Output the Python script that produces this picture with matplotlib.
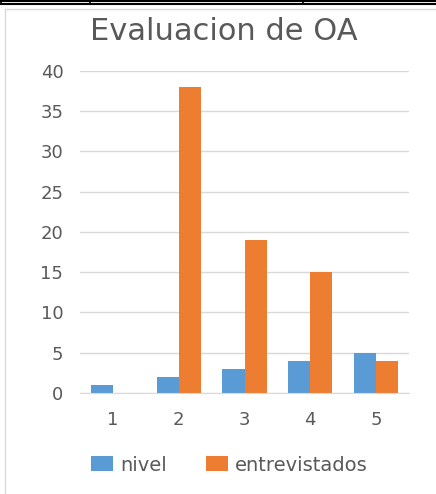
import numpy as np
import matplotlib.pyplot as plt
from matplotlib.lines import Line2D

# Datos
categorias = ['1', '2', '3', '4', '5']
nivel = [1, 2, 3, 4, 5]
entrevistados = [0, 38, 19, 15, 4]

azul = '#5B9BD5'
naranja = '#ED7D31'
gris_texto = '#595959'

plt.rcParams['font.family'] = ['DejaVu Sans']

fig = plt.figure(figsize=(4.36, 4.94), dpi=100)
W, H = 436, 494

# Bordes de la tabla arriba y del marco del grafico
fig.add_artist(Line2D([0, 1], [1 - 1 / H, 1 - 1 / H], color='black', lw=1.5, transform=fig.transFigure))
fig.add_artist(Line2D([0, 1], [1 - 4 / H, 1 - 4 / H], color='black', lw=1.5, transform=fig.transFigure))
for xv in [1, 90, 303]:
    fig.add_artist(Line2D([xv / W, xv / W], [1 - 4 / H, 1], color='black', lw=1.2, transform=fig.transFigure))
fig.add_artist(Line2D([5 / W, 1], [1 - 9 / H, 1 - 9 / H], color='#D9D9D9', lw=1, transform=fig.transFigure))
fig.add_artist(Line2D([5 / W, 5 / W], [0, 1 - 9 / H], color='#D9D9D9', lw=1, transform=fig.transFigure))

ax = fig.add_axes([80 / W, 1 - 393 / H, 329 / W, (393 - 70.7) / H])

x = np.arange(len(categorias))
ancho = 0.335
ax.bar(x - ancho / 2, nivel, ancho, color=azul, label='nivel')
ax.bar(x + ancho / 2, entrevistados, ancho, color=naranja, label='entrevistados')

ax.set_xlim(-0.5, len(categorias) - 0.5)
ax.set_ylim(0, 40)
ax.set_yticks(range(0, 41, 5))
ax.set_xticks(x)
ax.set_xticklabels(categorias)
ax.yaxis.grid(True, color='#D9D9D9', lw=1)
ax.set_axisbelow(True)
for s in ['top', 'right', 'left']:
    ax.spines[s].set_visible(False)
ax.spines['bottom'].set_color('#D9D9D9')
ax.tick_params(axis='both', length=0, labelsize=13, colors=gris_texto)
ax.tick_params(axis='y', pad=12)
ax.tick_params(axis='x', pad=13)

fig.text(223.5 / W, 1 - 32 / H, 'Evaluacion de OA', ha='center', va='center', fontsize=22, color=gris_texto)

ax.legend(loc='center left', bbox_to_anchor=(91 / W, (494 - 465) / H), bbox_transform=fig.transFigure,
          ncol=2, frameon=False, fontsize=14, labelcolor=gris_texto, borderpad=0, borderaxespad=0,
          handlelength=1.13, handleheight=0.82, handletextpad=0.36, columnspacing=2.0)

fig.savefig('out.png', dpi=100)
